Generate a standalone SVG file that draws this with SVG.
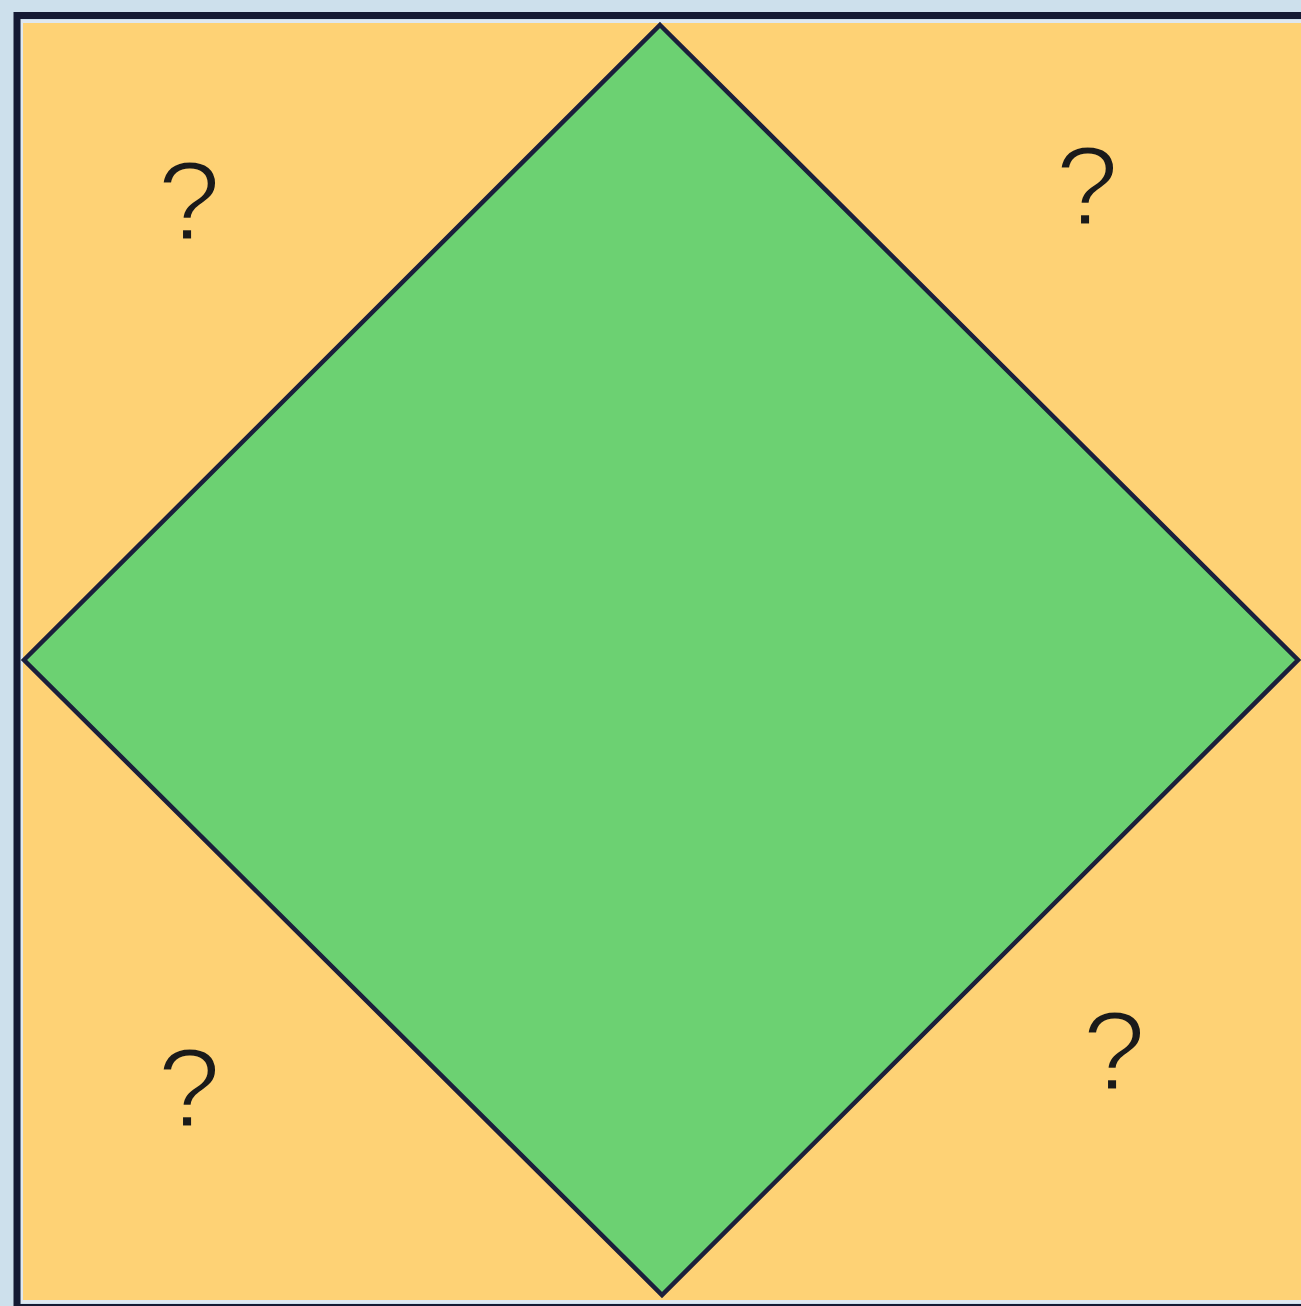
<svg xmlns="http://www.w3.org/2000/svg" width="1301" height="1306" viewBox="0 0 1301 1306">
<style>
.q{font-family:"Liberation Sans",Arial,sans-serif;font-size:114px;fill:#1a1a1a;stroke:#fed275;stroke-width:2.8;text-anchor:middle}
.edge{stroke:#1b1f3b;stroke-width:4.5;stroke-linejoin:miter}
</style>
<rect x="0" y="0" width="1301" height="1306" fill="#cde0ec"/>
<g id="frame">
<rect x="17" y="15.5" width="1300" height="1292" fill="none" stroke="#141a33" stroke-width="7"/>
<rect x="21" y="20" width="1290" height="1283" fill="#dfe8f0"/>
<rect x="23" y="23" width="1278" height="1277" fill="#fed275"/>
</g>
<g id="diamond">
<polygon class="edge" points="660,25 1298,660 662,1295 24,660" fill="#6cd172"/>
</g>
<g id="labels">
<text class="q" x="189" y="240">?</text>
<text class="q" x="1087" y="225">?</text>
<text class="q" x="189" y="1127">?</text>
<text class="q" x="1114" y="1090">?</text>
</g>
</svg>
